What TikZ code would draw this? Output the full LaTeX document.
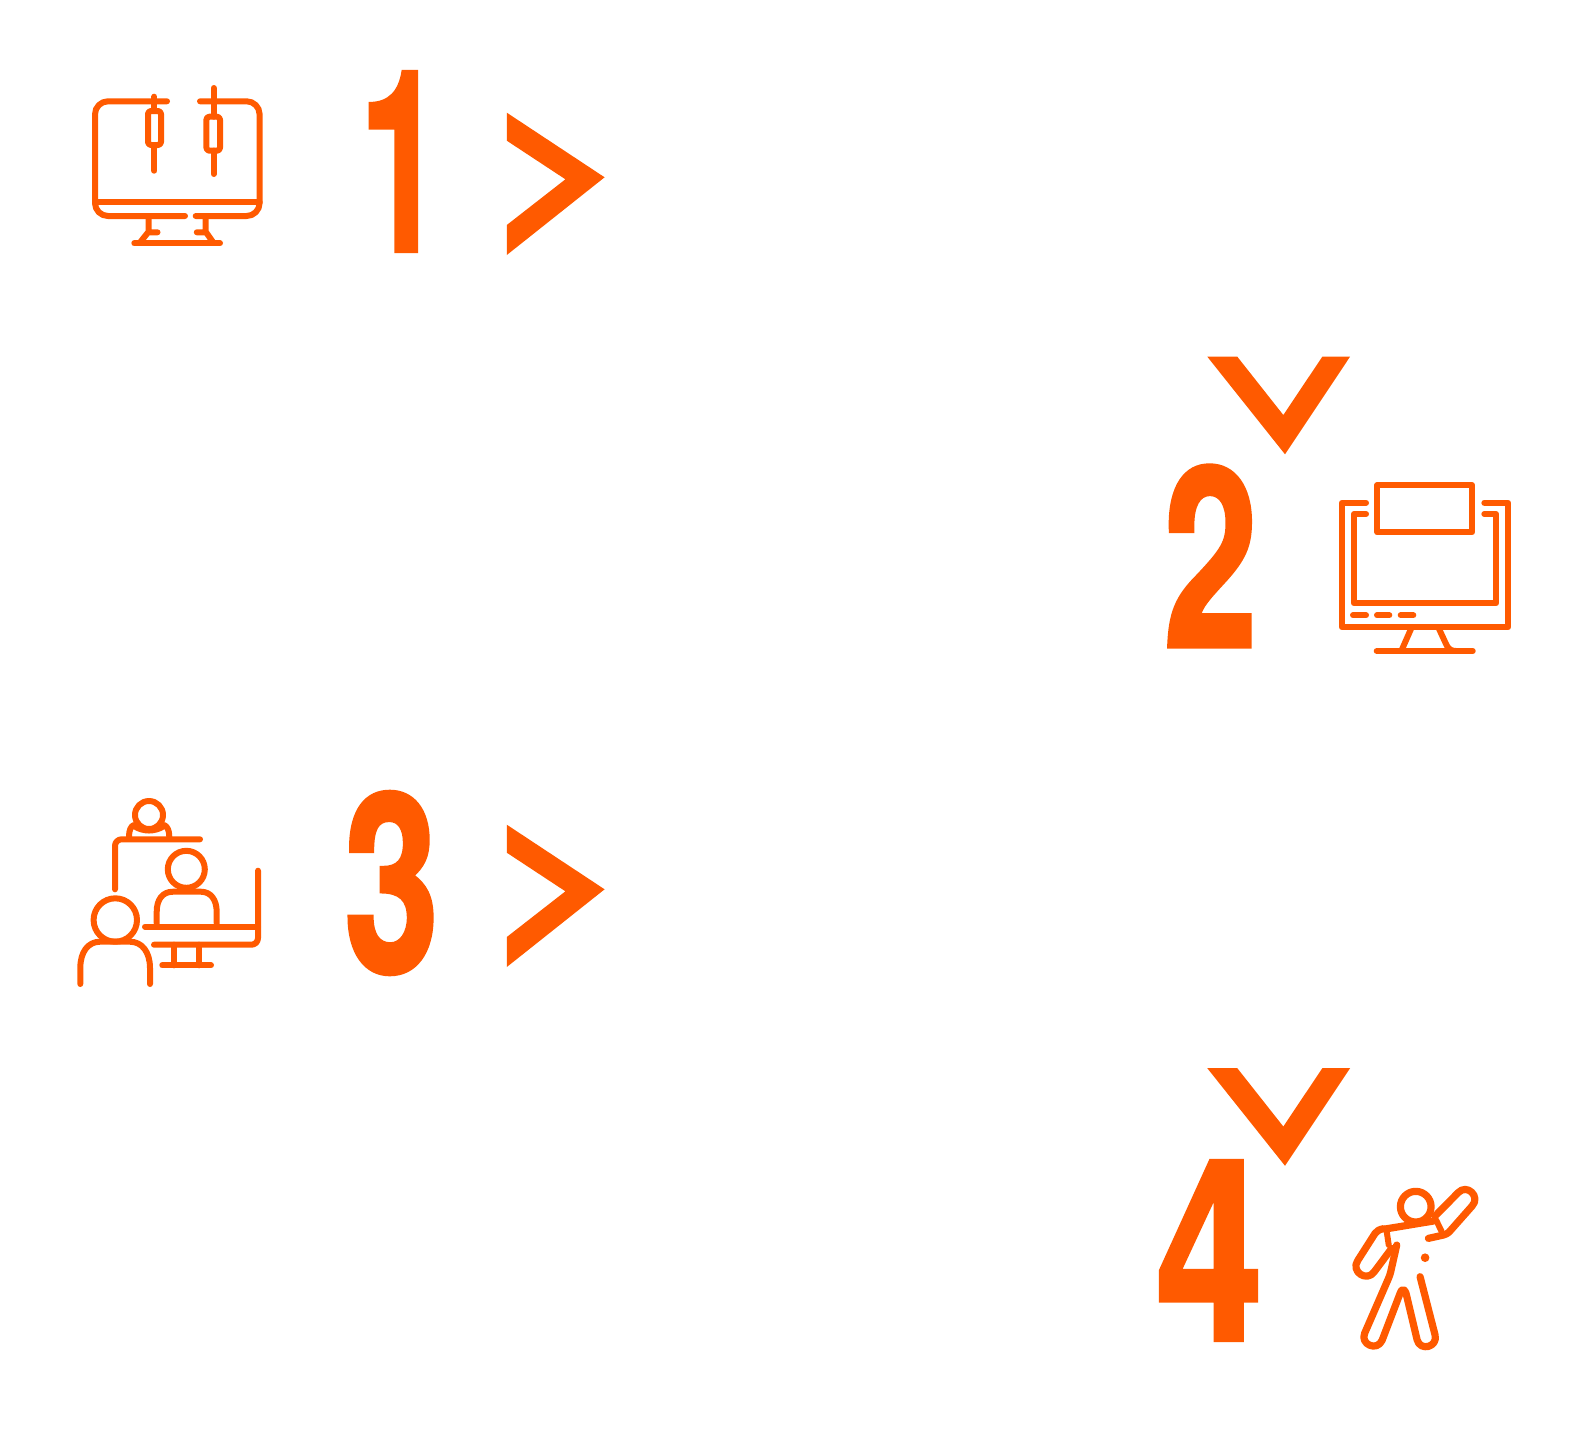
\documentclass[tikz,border=0pt]{standalone}
\usepackage{graphicx}
\usepackage{fontspec}
\setmainfont[BoldFeatures={FakeBold=1.7}]{TeX Gyre Heros}
\usetikzlibrary{calc}
\definecolor{StepOrange}{HTML}{FF5A00}
\newcommand{\chevright}[1]{% y offset
    \fill[StepOrange] (506.8,112.7+#1) -- (604.6,177.3+#1) -- (506.8,255+#1)
        -- (506.8,225+#1) -- (565.4,179.3+#1) -- (506.8,140.7+#1) -- cycle;
}
\newcommand{\chevdown}[1]{% y offset
    \fill[StepOrange] (1207.3,356.7+#1) -- (1237.3,356.7+#1) -- (1283.3,415+#1)
        -- (1322.3,356.7+#1) -- (1350,356.7+#1) -- (1285,454.3+#1) -- cycle;
}
\begin{document}
\begin{tikzpicture}[
    x=0.5pt, y=-0.5pt,
    digit/.style={inner sep=0pt, text=StepOrange, font=\bfseries},
    icon/.style={draw=StepOrange, line width=3pt, line cap=round, line join=round},
    figline/.style={icon, line width=3.6pt}
]
\useasboundingbox (0,0) rectangle (1582,1440);

% ===================================================================
% STEP 1: chart on a monitor
% ===================================================================
\draw[icon, rounded corners=6.5pt] (167,101.3) -- (95,101.3) -- (95,216) -- (185,216);
\draw[icon, rounded corners=6.5pt] (200,101.3) -- (259.6,101.3) -- (259.6,216) -- (195.7,216);
\draw[icon] (95,202.3) -- (259.6,202.3);
% candles
\draw[icon] (154.3,96.7) -- (154.3,111) (154.3,145) -- (154.3,170.7);
\draw[icon, rounded corners=1.5pt] (148,111) rectangle (161,145);
\draw[icon] (213.6,88) -- (213.6,116.7) (213.6,150.7) -- (213.6,174);
\draw[icon, rounded corners=1.5pt] (206.4,116.7) rectangle (220,150.7);
% stand
\draw[icon] (148.6,216) -- (148.6,231.7) -- (139.6,243) (148.6,232.3) -- (157.5,232.3);
\draw[icon] (205.7,216) -- (205.7,231.7) -- (213.6,243) (205.7,232.3) -- (196.8,232.3);
\draw[icon] (134.3,243.3) -- (220,243.3);

\node[digit] (stepone) at (401.6,161.5) {\resizebox{42pt}{89.5pt}{1}};
\chevright{0}

% ===================================================================
% STEP 2: window on a screen
% ===================================================================
\chevdown{0}
\node[digit] (steptwo) at (1210.5,556) {\resizebox{47pt}{90.5pt}{2}};

\draw[icon] (1377.3,485) rectangle (1472,532.3);
\draw[icon] (1366,502.7) -- (1342,502.7) -- (1342,627.3) -- (1508,627.3)
    -- (1508,502.7) -- (1484.3,502.7);
\draw[icon] (1366,514) -- (1354,514) -- (1354,603.3) -- (1496,603.3)
    -- (1496,514) -- (1484.3,514);
\draw[icon] (1353,615.3) -- (1366,615.3) (1377,615.3) -- (1389.3,615.3)
    (1400.7,615.3) -- (1413.3,615.3);
\draw[icon] (1411.7,627.3) -- (1401.7,650);
\draw[icon] (1438.3,627.3) -- (1446,644) .. controls (1448,649) and (1451,651) .. (1456,651);
\draw[icon] (1376.7,651) -- (1472.7,651);

% ===================================================================
% STEP 3: people at a screen
% ===================================================================
\draw[icon] (149,815) circle (14);
\draw[icon] (129,836.7) .. controls (129,830) and (131,826) .. (134,825);
\draw[icon] (169.3,836.7) .. controls (169.3,830) and (167,826) .. (164,825);
\draw[icon] (134,826) .. controls (143,832) and (155,832) .. (164,826);
\draw[icon, rounded corners=3.3pt] (200,839.3) -- (115,839.3) -- (115,889.3);
\draw[icon] (186.3,869.3) circle (18.5);
\draw[icon] (156.7,923.3) -- (156.7,912) .. controls (156.7,900) and (162,891.7) .. (173,891.7)
    -- (201,891.7) .. controls (211,891.7) and (216.7,900) .. (216.7,912) -- (216.7,923.3);
\draw[icon] (145,926.7) -- (258,926.7);
\draw[icon, rounded corners=3.3pt] (258,870.7) -- (258,944.7) -- (154,944.7);
\draw[icon] (174,944.7) -- (174,965.3) (199.3,944.7) -- (199.3,965.3);
\draw[icon] (162.3,965.3) -- (211,965.3);
\draw[icon] (115.3,920) circle (21.7);
\draw[icon] (80.3,984) -- (80.3,968) .. controls (80.3,952) and (88,941.7) .. (100,941.7)
    -- (130,941.7) .. controls (142,941.7) and (150,952) .. (150,968) -- (150,984);

\node[digit] (stepthree) at (391.5,883) {\resizebox{47.5pt}{90pt}{3}};
\chevright{712}

% ===================================================================
% STEP 4: figure with a raised arm
% ===================================================================
\chevdown{711.5}
\node[digit] (stepfour) at (1209.5,1250.5) {\resizebox{53.5pt}{89.5pt}{4}};

\begin{scope}[shift={(1150,1150)}, x=0.1667pt, y=-0.1667pt]
% head
\draw[figline] (797,170) circle (46);
% raised arm
\draw[figline] (835,265) -- (880,255) .. controls (888,253) and (892,250) .. (897,246)
    -- (966,168) .. controls (992.5,139.5) and (950.5,99.5) .. (924,128) -- (855,198);
\draw[icon] (858,210) -- (875,245);
% shoulders
\draw[figline] (850,213) -- (705,237);
% lower arm
\draw[figline] (700,236) .. controls (688,238) and (680,243) .. (675,250) -- (623.5,330.7)
    .. controls (600.4,363.3) and (649.4,397.9) .. (672.5,365.3) -- (725,295);
\draw[icon] (710,245) -- (716,285);
% body and legs
\draw[figline] (740,285) -- (722,365) .. controls (720,372) and (718,380) .. (714,388)
    -- (644,549) .. controls (629,583) and (681,605) .. (696,571) -- (750,430)
    .. controls (755,415) and (763,415) .. (768,430) -- (801,569)
    .. controls (810,605) and (864,591) .. (855,555) -- (810,380);
\fill[StepOrange] (825,323) circle (13);
\end{scope}
\end{tikzpicture}
\end{document}
